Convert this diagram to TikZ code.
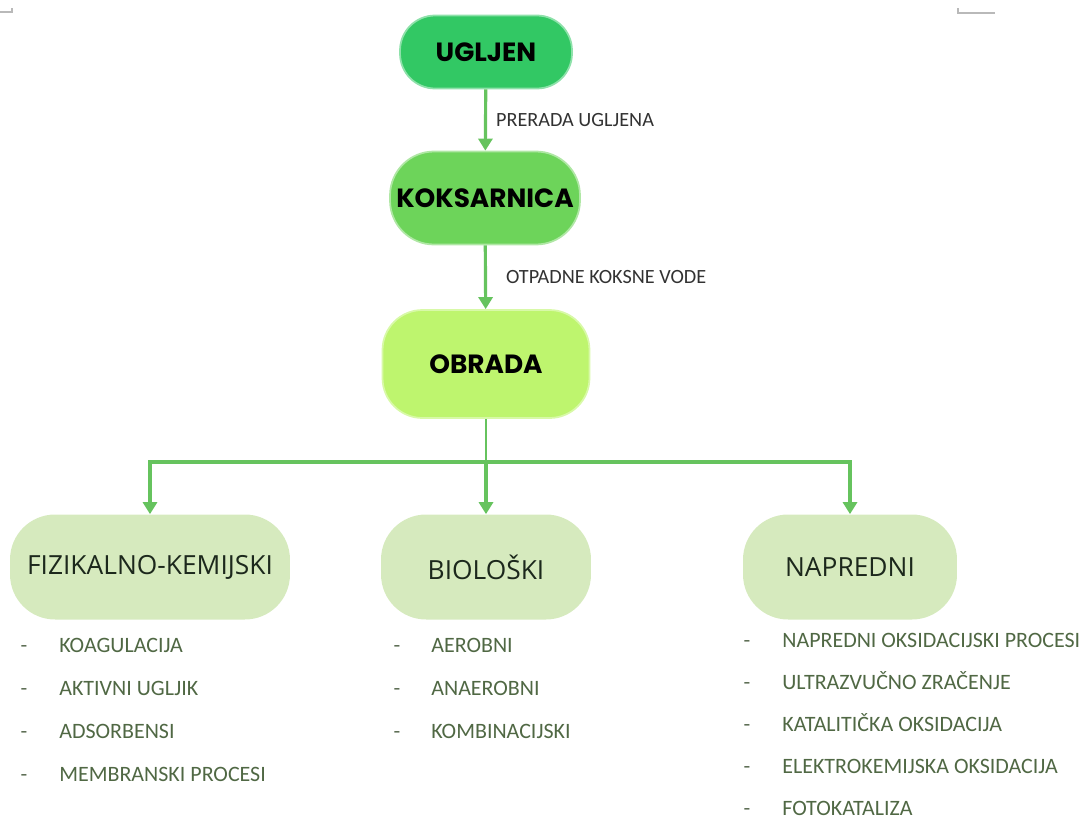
\documentclass[tikz,border=0pt]{standalone}
\usepackage{fontspec}
\setmainfont{Carlito}
\newfontfamily\headfont{Poppins}
\newfontfamily\catfont{Open Sans}
\usetikzlibrary{arrows.meta,positioning}
\definecolor{coalgreen}{RGB}{50,200,100}
\definecolor{cokegreen}{RGB}{109,212,90}
\definecolor{treatgreen}{RGB}{190,245,110}
\definecolor{catgreen}{RGB}{214,234,190}
\definecolor{arrowgreen}{RGB}{102,195,94}
\definecolor{labelgray}{RGB}{50,50,50}
\definecolor{itemgreen}{RGB}{80,104,68}
\definecolor{catink}{RGB}{28,40,28}

\begin{document}
\begin{tikzpicture}[x=0.02cm,y=-0.02cm,
  box/.style={align=center,inner sep=0pt},
  topbox/.style={box,font=\headfont\bfseries\fontsize{15}{18}\selectfont,text=black},
  catbox/.style={box,fill=catgreen,minimum height=2.1cm,rounded corners=0.9cm,
    font=\catfont\fontsize{15}{18}\selectfont,text=catink},
  arr/.style={draw=arrowgreen,line width=1.8pt,-{Triangle[length=2.4mm,width=2.8mm]}},
  conn/.style={draw=arrowgreen,line width=1.5pt},
  lbl/.style={font=\fontsize{11.5}{14}\selectfont,text=labelgray,anchor=west,inner sep=0pt},
  item/.style={anchor=base west,font=\fontsize{12.5}{15}\selectfont,text=itemgreen,inner sep=0pt},
  dashmark/.style={anchor=base,font=\fontsize{12.5}{15}\selectfont,text=itemgreen!70!gray,inner sep=0pt}]
\useasboundingbox (0,0) rectangle (1091,818);

% page corner marks
\draw[gray!55,line width=0.6pt] (0,12) -- (12,12) -- (12,8);
\draw[gray!55,line width=0.6pt] (958,8) -- (958,13) -- (995,13);

% main chain
\node[topbox,fill=coalgreen,draw=coalgreen!55!white,line width=1pt,
  minimum width=3.44cm,minimum height=1.46cm,rounded corners=0.7cm] (ugljen) at (486,52) {UGLJEN};
\node[topbox,fill=cokegreen,draw=cokegreen!55!white,line width=1pt,
  minimum width=3.8cm,minimum height=1.86cm,rounded corners=0.88cm] (koks) at (485,198) {KOKSARNICA};
\node[topbox,fill=treatgreen,draw=treatgreen!60!white,line width=1pt,
  minimum width=4.14cm,minimum height=2.16cm,rounded corners=0.8cm] (obrada) at (486,364) {OBRADA};

\draw[arr] (ugljen) -- (koks) node[lbl,pos=0.5,xshift=0.18cm] {PRERADA UGLJENA};
\draw[arr] (koks) -- (obrada) node[lbl,pos=0.5,xshift=0.38cm] {OTPADNE KOKSNE VODE};

% categories
\node[catbox,minimum width=5.6cm] (fiz) at (150,567) {FIZIKALNO-KEMIJSKI};
\node[catbox,minimum width=4.2cm] (bio) at (486,567) {BIOLOŠKI};
\node[catbox,minimum width=4.28cm] (nap) at (850,567) {NAPREDNI};

\coordinate (split) at (486,462);
\draw[conn] (obrada) -- (split);
\draw[arr] (split) -| (fiz);
\draw[arr] (split) -- (bio);
\draw[arr] (split) -| (nap);

% lists
\foreach \txt [count=\i] in {KOAGULACIJA,AKTIVNI UGLJIK,ADSORBENSI,MEMBRANSKI PROCESI} {
  \node[dashmark] (fizd\i) at (24,{609+43*\i}) {-};
  \node[item] (fiz\i) at (59,{609+43*\i}) {\txt};
}
\foreach \txt [count=\i] in {AEROBNI,ANAEROBNI,KOMBINACIJSKI} {
  \node[dashmark] (biod\i) at (397,{609+43*\i}) {-};
  \node[item] (bio\i) at (431,{609+43*\i}) {\txt};
}
\foreach \txt [count=\i] in {NAPREDNI OKSIDACIJSKI PROCESI,ULTRAZVUČNO ZRAČENJE,
  KATALITIČKA OKSIDACIJA,ELEKTROKEMIJSKA OKSIDACIJA,FOTOKATALIZA} {
  \node[dashmark] (napd\i) at (747,{605+42*\i}) {-};
  \node[item] (nap\i) at (782,{605+42*\i}) {\txt};
}
\end{tikzpicture}
\end{document}
